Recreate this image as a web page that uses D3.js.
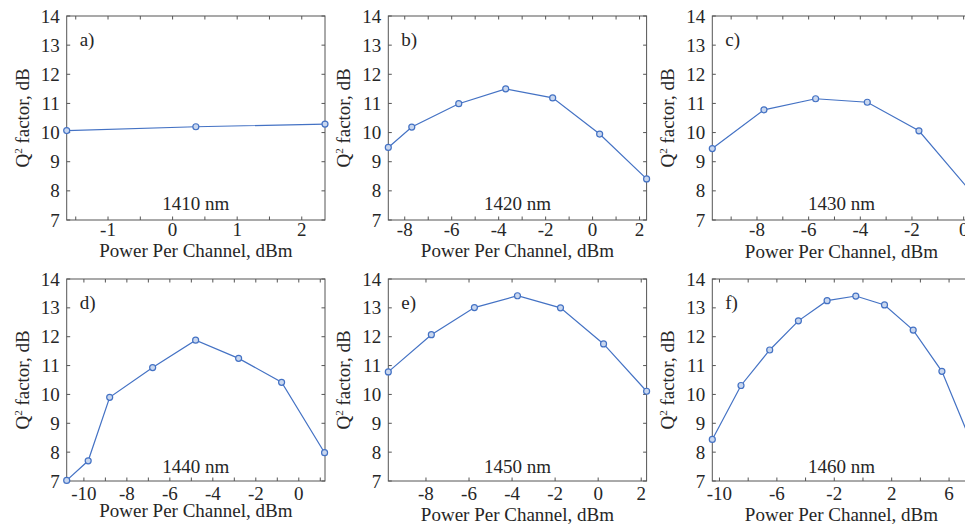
<!DOCTYPE html>
<html>
<head>
<meta charset="utf-8">
<script src="https://cdn.jsdelivr.net/npm/d3@7"></script>
<style>
  body { margin: 0; background: #fff; }
  svg text { font-family: "Liberation Serif", Tinos, "DejaVu Serif", serif; fill: #262626; }
</style>
</head>
<body>
<div id="chart"></div>
<script>
// Q^2 factor vs power per channel, six wavelengths

var powerA = [-1.64, 0.36, 2.36],
    q2A = [10.07, 10.2, 10.29];
var powerB = [-8.7, -7.7, -5.7, -3.7, -1.7, 0.3, 2.3],
    q2B = [9.49, 10.19, 10.99, 11.5, 11.19, 9.95, 8.41];
var powerC = [-9.73, -7.73, -5.73, -3.73, -1.73, 0.27],
    q2C = [9.45, 10.78, 11.16, 11.04, 10.06, 7.98];
var powerD = [-10.8, -9.8, -8.8, -6.8, -4.8, -2.8, -0.8, 1.2],
    q2D = [7.02, 7.7, 9.9, 10.93, 11.88, 11.25, 10.42, 7.98];
var powerE = [-9.75, -7.75, -5.75, -3.75, -1.75, 0.25, 2.25],
    q2E = [10.78, 12.07, 13.01, 13.42, 13.0, 11.75, 10.11];
var powerF = [-10.5, -8.5, -6.5, -4.5, -2.5, -0.5, 1.5, 3.5, 5.5, 7.5],
    q2F = [8.44, 10.31, 11.54, 12.55, 13.25, 13.41, 13.1, 12.23, 10.8, 8.4];

var panelTags = ["a)", "b)", "c)", "d)", "e)", "f)"],
    lambdas = ["1410 nm", "1420 nm", "1430 nm", "1440 nm", "1450 nm", "1460 nm"];

// x domains (axis limits follow the data)
var xLims = [[-1.64, 2.36], [-8.7, 2.3], [-9.73, 0.27], [-10.8, 1.22], [-9.75, 2.25], [-10.5, 7.5]];
// labelled ticks and all tick marks
var xLabelTicks = [[-1, 0, 1, 2], [-8, -6, -4, -2, 0, 2], [-8, -6, -4, -2, 0],
                   [-10, -8, -6, -4, -2, 0], [-8, -6, -4, -2, 0, 2], [-10, -6, -2, 2, 6]];
var xMarkTicks = [[-1.5, -1, -0.5, 0, 0.5, 1, 1.5, 2],
                  [-8, -7, -6, -5, -4, -3, -2, -1, 0, 1, 2],
                  [-9, -8, -7, -6, -5, -4, -3, -2, -1, 0],
                  [-10, -9, -8, -7, -6, -5, -4, -3, -2, -1, 0, 1],
                  [-8, -6, -4, -2, 0, 2],
                  [-10, -8, -6, -4, -2, 0, 2, 4, 6]];
var yTicks = [7, 8, 9, 10, 11, 12, 13, 14];

var W = 965, H = 527,
    colLeft = [66.7, 388.3, 712.3], plotW = 258.3,
    rowTop = [16, 279], rowH = [204, 202],
    lineColor = "#4472c4", fontSize = 19,
    serif = "'Liberation Serif', Tinos, 'DejaVu Serif', serif";

var xlabelBase = [[257, 257, 258], [517, 521, 521]];

var svg = d3.select("#chart").append("svg")
    .attr("width", W).attr("height", H)
    .attr("font-family", serif);

var xs = [powerA, powerB, powerC, powerD, powerE, powerF],
    ys = [q2A, q2B, q2C, q2D, q2E, q2F];

xs.forEach(function(px, k){
  var row = Math.floor(k / 3), col = k % 3;
  var left = colLeft[col], top = rowTop[row], h = rowH[row];
  var xr = d3.scaleLinear().domain(xLims[k]).range([left, left + plotW]);
  var yr = d3.scaleLinear().domain([7, 14]).range([top + h, top]);
  var g = svg.append("g");

  // box
  g.append("rect")
    .attr("x", left).attr("y", top).attr("width", plotW).attr("height", h)
    .attr("fill", "none").attr("stroke", "#555").attr("stroke-width", 1);

  // inward ticks on all four sides
  var tl = 3.5;
  xMarkTicks[k].forEach(function(t){
    var x = xr(t);
    g.append("line").attr("x1", x).attr("x2", x).attr("y1", top + h).attr("y2", top + h - tl)
      .attr("stroke", "#555");
    g.append("line").attr("x1", x).attr("x2", x).attr("y1", top).attr("y2", top + tl)
      .attr("stroke", "#555");
  });
  yTicks.forEach(function(t){
    var y = yr(t);
    g.append("line").attr("x1", left).attr("x2", left + tl).attr("y1", y).attr("y2", y)
      .attr("stroke", "#555");
    g.append("line").attr("x1", left + plotW - tl).attr("x2", left + plotW).attr("y1", y).attr("y2", y)
      .attr("stroke", "#555");
  });

  // tick labels
  g.selectAll(".xl").data(xLabelTicks[k]).join("text")
    .attr("x", d => xr(d)).attr("y", top + h + (row ? 18.5 : 15.5))
    .attr("text-anchor", "middle").attr("font-size", fontSize)
    .text(d => d);
  g.selectAll(".yl").data(yTicks).join("text")
    .attr("x", left - 7).attr("y", d => yr(d) + 6.5)
    .attr("text-anchor", "end").attr("font-size", fontSize)
    .text(d => d);

  // axis titles
  g.append("text")
    .attr("x", left + plotW / 2).attr("y", xlabelBase[row][col])
    .attr("text-anchor", "middle").attr("font-size", fontSize)
    .text("Power Per Channel, dBm");
  var yt = g.append("text")
    .attr("transform", "translate(" + (left - 38) + "," + (top + h / 2) + ") rotate(-90)")
    .attr("text-anchor", "middle").attr("font-size", fontSize);
  yt.append("tspan").text("Q");
  yt.append("tspan").attr("font-size", 11).attr("dy", -7).text("2");
  yt.append("tspan").attr("dy", 7).text(" factor, dB");

  // panel tag and wavelength
  g.append("text").attr("x", left + 13).attr("y", top + 30)
    .attr("font-size", fontSize).text(panelTags[k]);
  g.append("text").attr("x", left + plotW / 2).attr("y", top + h - (row ? 8 : 10))
    .attr("text-anchor", "middle").attr("font-size", fontSize).text(lambdas[k]);

  // data
  var pts = px.map((x, i) => ({x: x, y: ys[k][i]}));
  g.append("path").datum(pts)
    .attr("fill", "none").attr("stroke", lineColor).attr("stroke-width", 1.2)
    .attr("d", d3.line().x(d => xr(d.x)).y(d => yr(d.y)));
  g.selectAll("circle").data(pts).join("circle")
    .attr("cx", d => xr(d.x)).attr("cy", d => yr(d.y)).attr("r", 3)
    .attr("fill", "#c9d7ef").attr("stroke", lineColor).attr("stroke-width", 1.2);
});
</script>
</body>
</html>
